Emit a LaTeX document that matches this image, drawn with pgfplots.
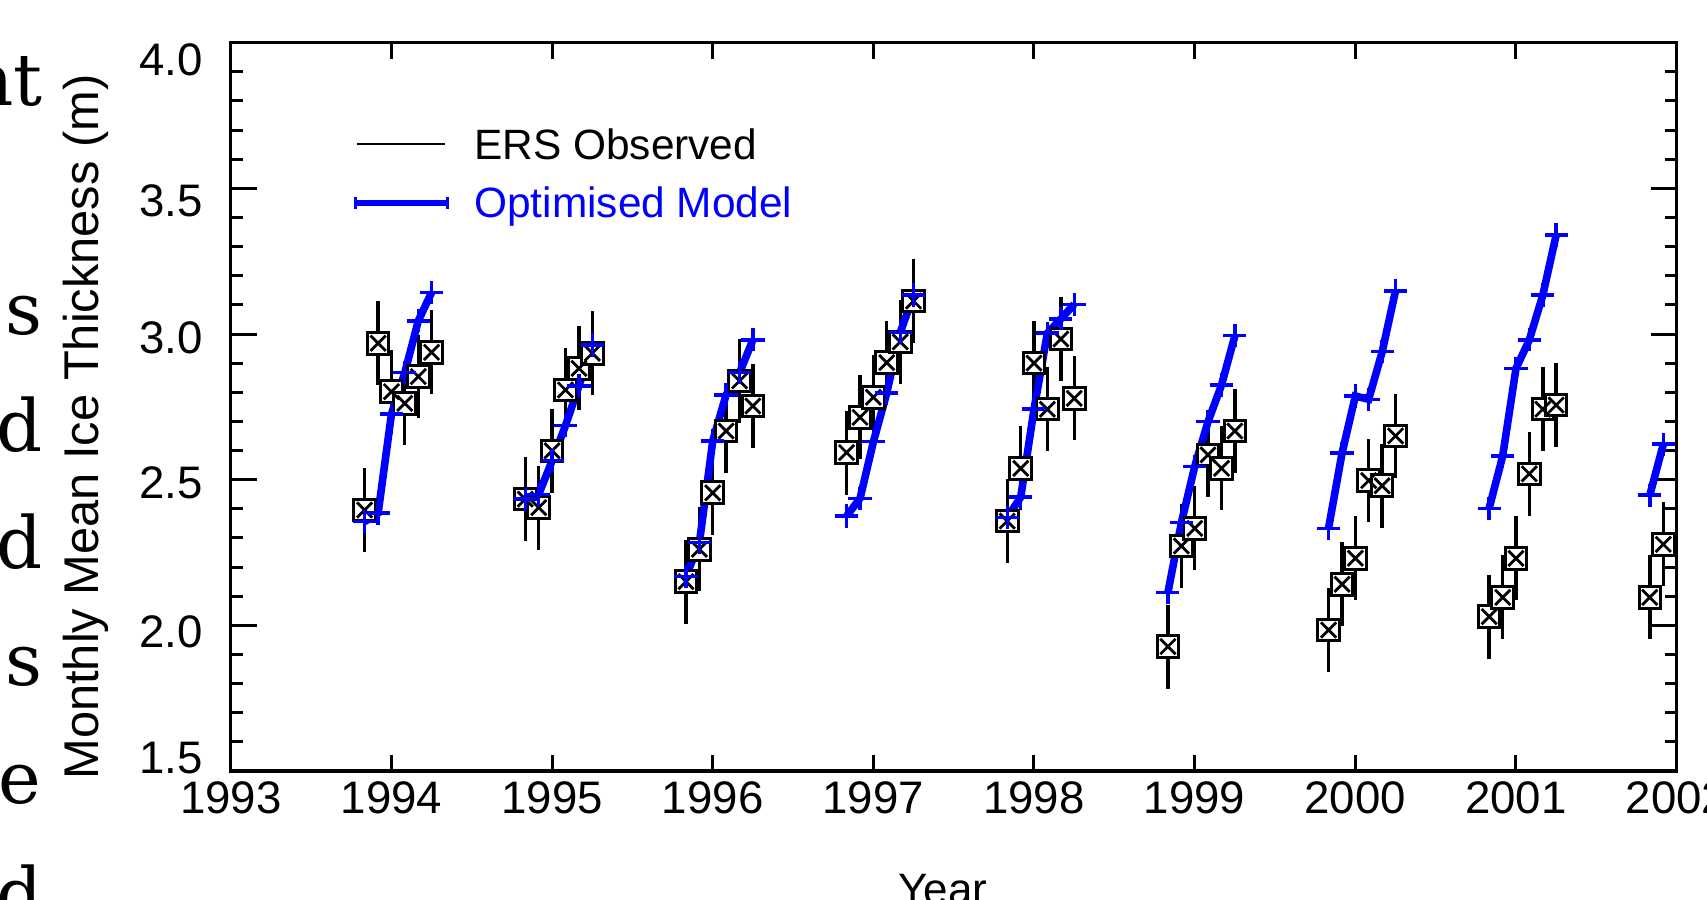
\documentclass[border=0pt]{standalone}
\usepackage{pgfplots}
\pgfplotsset{compat=1.18}
\usepackage{pgfplotstable}
\usepackage{fontspec}
\setmainfont{Liberation Sans}
\newfontfamily\fragfont{DejaVu Serif}

\newcommand{\yl}[2]{\raisebox{#1}[\height][\depth]{#2}}

% ERS observed monthly means (Nov--Apr of each winter)
\pgfplotstableread{
x y
1993.833 2.396
1993.917 2.968
1994.000 2.802
1994.083 2.762
1994.167 2.854
1994.250 2.937
1994.833 2.433
1994.917 2.404
1995.000 2.599
1995.083 2.808
1995.167 2.882
1995.250 2.934
1995.833 2.150
1995.917 2.261
1996.000 2.455
1996.083 2.667
1996.167 2.839
1996.250 2.753
1996.833 2.593
1996.917 2.714
1997.000 2.783
1997.083 2.902
1997.167 2.973
1997.250 3.113
1997.833 2.358
1997.917 2.539
1998.000 2.900
1998.083 2.742
1998.167 2.983
1998.250 2.779
1998.833 1.927
1998.917 2.272
1999.000 2.333
1999.083 2.585
1999.167 2.539
1999.250 2.667
1999.833 1.984
1999.917 2.141
2000.000 2.230
2000.083 2.497
2000.167 2.479
2000.250 2.650
2000.833 2.030
2000.917 2.096
2001.000 2.230
2001.083 2.520
2001.167 2.742
2001.250 2.756
2001.833 2.096
2001.917 2.278
}\obs

% Optimised model (one winter per block, nan rows break the line)
\pgfplotstableread{
x y
1993.833 2.356
1993.917 2.385
1994.000 2.725
1994.083 2.867
1994.167 3.045
1994.250 3.143
nan nan
1994.833 2.433
1994.917 2.450
1995.000 2.565
1995.083 2.685
1995.167 2.822
1995.250 2.962
nan nan
1995.833 2.167
1995.917 2.284
1996.000 2.633
1996.083 2.791
1996.167 2.867
1996.250 2.980
nan nan
1996.833 2.375
1996.917 2.436
1997.000 2.630
1997.083 2.797
1997.167 3.005
1997.250 3.134
nan nan
1997.833 2.370
1997.917 2.440
1998.000 2.742
1998.083 3.003
1998.167 3.052
1998.250 3.102
nan nan
1998.833 2.112
1998.917 2.352
1999.000 2.545
1999.083 2.699
1999.167 2.825
1999.250 2.994
nan nan
1999.833 2.333
1999.917 2.591
2000.000 2.787
2000.083 2.776
2000.167 2.939
2000.250 3.148
nan nan
2000.833 2.402
2000.917 2.581
2001.000 2.882
2001.083 2.980
2001.167 3.134
2001.250 3.340
nan nan
2001.833 2.447
2001.917 2.622
}\model

\pgfplotsset{
  framestyle/.style={
    at={(57.7pt,32.25pt)}, anchor=south west,
    scale only axis, width=361.47pt, height=182.08pt,
    xmin=1993, xmax=2002, ymin=1.5, ymax=4.0,
    tick pos=both, tick align=inside,
    every tick/.style={black, line width=0.75pt},
    axis line style={line width=0.8pt},
    tick label style={font=\fontsize{11.4}{13}\selectfont},
  }
}

\begin{document}
\begin{tikzpicture}
% axis with the data, y ticks and labels
\begin{axis}[
  framestyle,
  xtick=\empty,
  ytick={1.5,2.0,2.5,3.0,3.5,4.0},
  yticklabels={\yl{3.2pt}{1.5},\yl{-1.5pt}{2.0},\yl{-0.7pt}{2.5},\yl{-1pt}{3.0},\yl{-3pt}{3.5},\yl{-4.25pt}{4.0}},
  minor y tick num=4,
  major tick length=6.5pt, minor tick length=3pt,
  yticklabel style={inner sep=0pt, xshift=-6.85pt},
  title={Arctic Basin},
  title style={at={(axis description cs:0.4749,1.038)}, anchor=base, font=\fontsize{13.7}{16}\selectfont, inner sep=0pt},
  xlabel={Year},
  xlabel style={at={(axis description cs:0.4926,-0.1833)}, anchor=base, font=\fontsize{11}{13}\selectfont, inner sep=0pt},
  ylabel={Monthly Mean Ice Thickness (m)},
  ylabel style={at={(axis description cs:-0.0915,0.4723)}, anchor=base, rotate=0, font=\fontsize{12.2}{14}\selectfont, inner sep=0pt},
  legend cell align=left,
  legend style={at={(axis description cs:0.0838,0.8818)}, anchor=north west,
    draw=none, fill=none, inner sep=0pt, outer sep=0pt,
    row sep=7.1pt, column sep=6pt,
    font=\fontsize{10.6}{12}\selectfont,
    nodes={inner sep=0pt, text height=7.6pt, text depth=0pt}},
  unbounded coords=jump,
]
\addplot[only marks, mark=square*, mark size=2.7pt,
  mark options={draw=black, fill=white, line width=0.75pt},
  error bars/.cd, y dir=both, y fixed=0.144, error mark=none,
  error bar style={black, line width=0.85pt}]
  table[x=x, y=y] {\obs};
\pgfplotsset{legend image code/.code={\draw[black, line width=0.65pt] (0pt,0pt) -- (22pt,0pt);}}
\addlegendentry{ERS Observed}
\addplot[forget plot, only marks, mark=x, mark size=2.7pt,
  mark options={draw=black, line width=0.7pt}]
  table[x=x, y=y] {\obs};
\addplot[blue, line width=1.9pt, mark=+, mark size=2.9pt,
  mark options={line width=0.85pt, solid},
  legend image code/.code={
    \draw[blue, line width=1.6pt] (-0.5pt,0pt) -- (22.5pt,0pt);
    \draw[blue, line width=0.7pt] (-0.5pt,-1.5pt) -- (-0.5pt,1.5pt) (22.5pt,-1.5pt) -- (22.5pt,1.5pt);}]
  table[x=x, y=y] {\model};
\addlegendentry{\textcolor{blue}{Optimised Model}}
\end{axis}
% same frame, drawing the shorter x ticks and the year labels
\begin{axis}[
  framestyle,
  ytick=\empty,
  xtick={1993,1994,...,2002},
  xticklabels={1993,1994,1995,1996,1997,1998,1999,2000,2001,2002},
  minor x tick num=8,
  major tick length=4pt, minor tick length=2.2pt,
  xticklabel style={inner sep=0pt, yshift=-2.5pt},
]
\end{axis}
% fragments of the surrounding page text, cut by the crop
\begin{scope}[every node/.style={anchor=base east, inner sep=0pt, font=\fragfont\fontsize{18}{22}\selectfont}]
\node at (10.9pt,198.6pt) {nt};
\node at (10.9pt,141.45pt) {s};
\node at (10.9pt,112.05pt) {d};
\node at (10.9pt,82.9pt) {d};
\node at (10.9pt,53.5pt) {s};
\node at (10.4pt,24.1pt) {e};
\node at (10.9pt,-5pt) {d};
\end{scope}
\pgfresetboundingbox
\useasboundingbox (0,0) rectangle (426.75pt,225pt);
\end{tikzpicture}
\end{document}
